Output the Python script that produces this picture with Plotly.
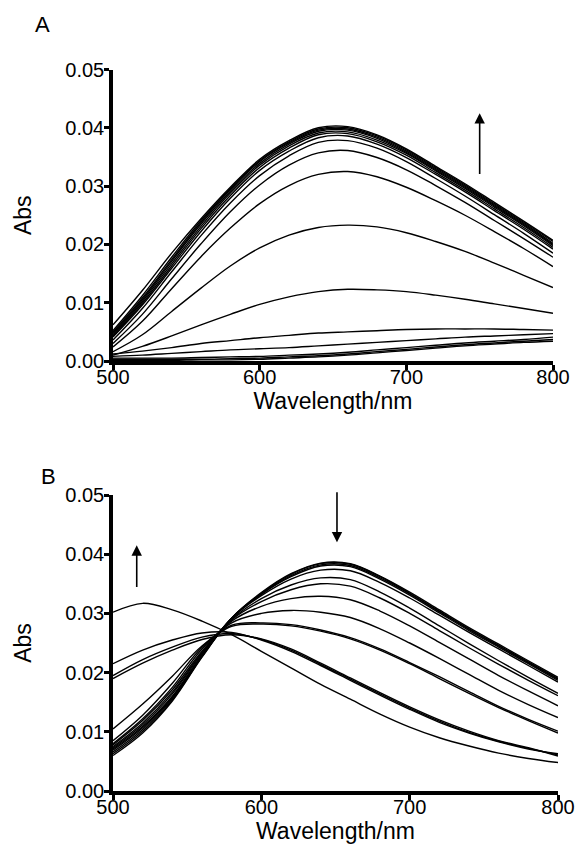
import plotly.graph_objects as go

# Wavelength sample points (nm)
wavelength = [500, 520, 540, 560, 580, 600, 620, 640, 660, 680, 700, 720, 740, 760, 780, 800]

# Panel A spectra (Abs)
panel_a = [
    [0.0062,0.0121,0.0185,0.0244,0.0298,0.0346,0.0378,0.0400,0.0402,0.0388,0.0364,0.0334,0.0304,0.0272,0.0240,0.0207],
    [0.0052,0.0112,0.0178,0.0241,0.0296,0.0344,0.0376,0.0398,0.0400,0.0386,0.0362,0.0332,0.0302,0.0270,0.0238,0.0205],
    [0.0049,0.0108,0.0174,0.0238,0.0294,0.0342,0.0374,0.0396,0.0398,0.0384,0.0360,0.0330,0.0300,0.0268,0.0236,0.0202],
    [0.0047,0.0105,0.0171,0.0235,0.0291,0.0339,0.0372,0.0394,0.0396,0.0382,0.0358,0.0328,0.0298,0.0266,0.0234,0.0200],
    [0.0045,0.0102,0.0167,0.0231,0.0288,0.0336,0.0369,0.0391,0.0393,0.0379,0.0356,0.0326,0.0296,0.0264,0.0232,0.0198],
    [0.0043,0.0099,0.0163,0.0227,0.0284,0.0332,0.0365,0.0388,0.0390,0.0376,0.0353,0.0323,0.0293,0.0261,0.0229,0.0195],
    [0.0041,0.0096,0.0159,0.0222,0.0279,0.0327,0.0360,0.0383,0.0386,0.0372,0.0349,0.0320,0.0290,0.0258,0.0226,0.0192],
    [0.0036,0.0090,0.0153,0.0215,0.0271,0.0318,0.0352,0.0375,0.0378,0.0365,0.0342,0.0313,0.0283,0.0251,0.0219,0.0185],
    [0.0030,0.0080,0.0141,0.0201,0.0256,0.0302,0.0336,0.0357,0.0361,0.0349,0.0328,0.0301,0.0272,0.0241,0.0210,0.0178],
    [0.0024,0.0068,0.0124,0.0179,0.0228,0.0270,0.0301,0.0320,0.0325,0.0316,0.0298,0.0275,0.0250,0.0222,0.0193,0.0162],
    [0.0016,0.0045,0.0085,0.0125,0.0163,0.0194,0.0216,0.0229,0.0233,0.0230,0.0220,0.0205,0.0188,0.0168,0.0147,0.0126],
    [0.0010,0.0025,0.0043,0.0062,0.0080,0.0097,0.0110,0.0119,0.0123,0.0122,0.0119,0.0113,0.0106,0.0098,0.0090,0.0082],
    [0.0012,0.0017,0.0023,0.0030,0.0035,0.0040,0.0044,0.0048,0.0050,0.0052,0.0054,0.0055,0.0055,0.0055,0.0054,0.0053],
    [0.0008,0.0010,0.0013,0.0016,0.0019,0.0021,0.0023,0.0026,0.0029,0.0032,0.0035,0.0038,0.0041,0.0043,0.0045,0.0047],
    [0.0005,0.0005,0.0005,0.0006,0.0007,0.0008,0.0010,0.0012,0.0015,0.0019,0.0023,0.0027,0.0031,0.0034,0.0037,0.0041],
    [0.0003,0.0003,0.0003,0.0003,0.0004,0.0005,0.0007,0.0009,0.0012,0.0016,0.0020,0.0024,0.0028,0.0031,0.0034,0.0037],
    [0.0001,0.0001,0.0001,0.0002,0.0002,0.0003,0.0005,0.0007,0.0010,0.0014,0.0018,0.0022,0.0026,0.0029,0.0032,0.0034],
]

# Panel B spectra (Abs)
panel_b = [
    [0.0060,0.0098,0.0152,0.0226,0.0292,0.0335,0.0367,0.0385,0.0384,0.0363,0.0336,0.0306,0.0276,0.0248,0.0220,0.0192],
    [0.0063,0.0101,0.0154,0.0227,0.0292,0.0334,0.0366,0.0384,0.0383,0.0362,0.0334,0.0304,0.0274,0.0246,0.0218,0.0190],
    [0.0066,0.0104,0.0156,0.0228,0.0292,0.0333,0.0364,0.0382,0.0381,0.0360,0.0333,0.0303,0.0273,0.0245,0.0217,0.0189],
    [0.0069,0.0107,0.0158,0.0229,0.0292,0.0332,0.0362,0.0380,0.0379,0.0358,0.0331,0.0301,0.0271,0.0243,0.0215,0.0187],
    [0.0071,0.0109,0.0160,0.0230,0.0292,0.0330,0.0358,0.0373,0.0372,0.0352,0.0326,0.0297,0.0268,0.0240,0.0212,0.0184],
    [0.0073,0.0112,0.0164,0.0232,0.0290,0.0325,0.0348,0.0360,0.0357,0.0336,0.0309,0.0279,0.0249,0.0220,0.0192,0.0165],
    [0.0075,0.0115,0.0167,0.0234,0.0289,0.0320,0.0340,0.0350,0.0346,0.0326,0.0300,0.0271,0.0242,0.0214,0.0187,0.0161],
    [0.0078,0.0119,0.0171,0.0236,0.0287,0.0312,0.0325,0.0329,0.0323,0.0304,0.0279,0.0251,0.0223,0.0195,0.0169,0.0144],
    [0.0080,0.0122,0.0175,0.0240,0.0284,0.0300,0.0305,0.0302,0.0293,0.0274,0.0250,0.0224,0.0197,0.0170,0.0146,0.0124],
    [0.0085,0.0128,0.0182,0.0243,0.0280,0.0284,0.0281,0.0272,0.0259,0.0240,0.0217,0.0193,0.0168,0.0143,0.0121,0.0101],
    [0.0105,0.0147,0.0194,0.0245,0.0278,0.0282,0.0279,0.0270,0.0257,0.0238,0.0215,0.0190,0.0165,0.0141,0.0119,0.0098],
    [0.0190,0.0216,0.0238,0.0256,0.0264,0.0257,0.0240,0.0216,0.0191,0.0166,0.0142,0.0120,0.0101,0.0085,0.0073,0.0059],
    [0.0195,0.0222,0.0243,0.0260,0.0266,0.0256,0.0238,0.0214,0.0189,0.0164,0.0140,0.0118,0.0099,0.0084,0.0072,0.0061],
    [0.0215,0.0238,0.0255,0.0267,0.0268,0.0255,0.0236,0.0212,0.0187,0.0162,0.0138,0.0116,0.0098,0.0083,0.0071,0.0063],
    [0.0302,0.0317,0.0306,0.0287,0.0264,0.0236,0.0208,0.0180,0.0155,0.0130,0.0108,0.0090,0.0076,0.0064,0.0055,0.0048],
]

x_ticks = [500, 600, 700, 800]
y_ticks = [0.00, 0.01, 0.02, 0.03, 0.04, 0.05]
y_tick_labels = ["0.00", "0.01", "0.02", "0.03", "0.04", "0.05"]

FONT = "Liberation Sans, Arial, Helvetica, sans-serif"
W, H = 575, 848


def px_x(p):
    return p / W


def px_y(p):
    return 1 - p / H


fig = go.Figure()
for s in panel_a:
    fig.add_trace(go.Scatter(x=wavelength, y=s, mode="lines", xaxis="x", yaxis="y",
                             line=dict(color="black", width=1.4, shape="spline"),
                             showlegend=False, hoverinfo="skip"))
for s in panel_b:
    fig.add_trace(go.Scatter(x=wavelength, y=s, mode="lines", xaxis="x2", yaxis="y2",
                             line=dict(color="black", width=1.4, shape="spline"),
                             showlegend=False, hoverinfo="skip"))


def xa(domain, anchor):
    return dict(domain=domain, anchor=anchor, range=[500, 800], tickvals=x_ticks,
                automargin=False, ticklabelstandoff=-10,
                ticks="outside", ticklen=5, tickwidth=3, tickcolor="black",
                showline=True, linewidth=3.5, linecolor="black", showgrid=False,
                zeroline=False, tickfont=dict(size=20, color="black", family=FONT),
                title=dict(text="Wavelength/nm", font=dict(size=23, color="black", family=FONT), standoff=7))


def ya(domain, anchor):
    return dict(domain=domain, anchor=anchor, range=[0, 0.05], tickvals=y_ticks,
                ticktext=y_tick_labels, automargin=False, ticklabelstandoff=-4,
                ticks="outside", ticklen=5, tickwidth=3, tickcolor="black",
                showline=True, linewidth=3.5, linecolor="black", showgrid=False,
                zeroline=False, tickfont=dict(size=20, color="black", family=FONT),
                title=dict(text="Abs", font=dict(size=23, color="black", family=FONT), standoff=28))


fig.update_layout(
    width=W, height=H, margin=dict(l=0, r=0, t=0, b=0),
    paper_bgcolor="white", plot_bgcolor="white",
    xaxis=xa([px_x(113), px_x(553)], "y"),
    yaxis=ya([px_y(361), px_y(69.5)], "x"),
    xaxis2=xa([px_x(113), px_x(558)], "y2"),
    yaxis2=ya([px_y(791), px_y(495)], "x2"),
    font=dict(family=FONT, color="black"),
    annotations=[
        dict(text="A", x=px_x(42), y=px_y(25), xref="paper", yref="paper", showarrow=False,
             xanchor="center", yanchor="middle", font=dict(size=22, family=FONT, color="black")),
        dict(text="B", x=px_x(48), y=px_y(476), xref="paper", yref="paper", showarrow=False,
             xanchor="center", yanchor="middle", font=dict(size=22, family=FONT, color="black")),
        dict(text="", x=750, y=0.0425, ax=750, ay=0.0318, xref="x", yref="y", axref="x", ayref="y",
             showarrow=True, arrowhead=2, arrowsize=1.3, arrowwidth=1.6, arrowcolor="black"),
        dict(text="", x=651, y=0.0420, ax=651, ay=0.0507, xref="x2", yref="y2", axref="x2", ayref="y2",
             showarrow=True, arrowhead=2, arrowsize=1.3, arrowwidth=1.6, arrowcolor="black"),
        dict(text="", x=516, y=0.0415, ax=516, ay=0.0342, xref="x2", yref="y2", axref="x2", ayref="y2",
             showarrow=True, arrowhead=2, arrowsize=1.3, arrowwidth=1.6, arrowcolor="black"),
    ],
)

fig.write_html("out.html", config={"displayModeBar": False},
               post_script="document.body.style.margin='0';document.body.style.overflow='hidden';")
